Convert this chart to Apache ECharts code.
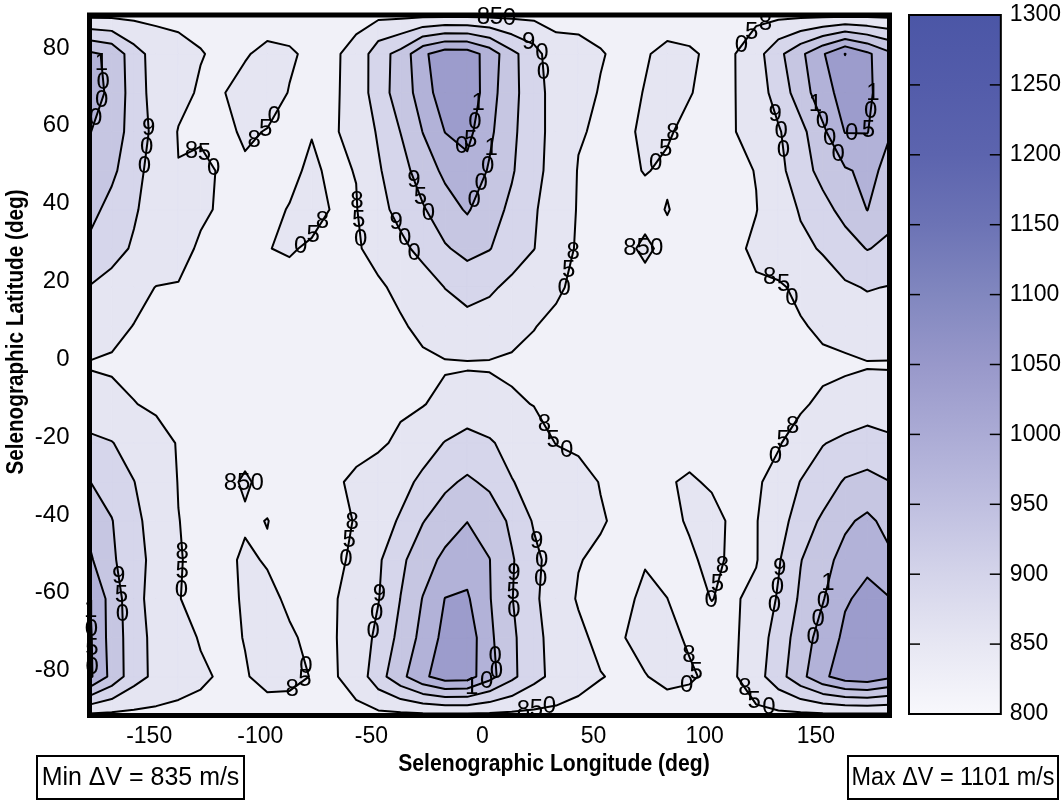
<!DOCTYPE html>
<html><head><meta charset="utf-8">
<script src="https://cdn.jsdelivr.net/npm/echarts@6/dist/echarts.min.js"></script>
<style>html,body{margin:0;padding:0;background:#fff}#c{width:1064px;height:800px}</style>
</head><body><div id="c"></div>
<script>
// ---------------- DATA ----------------
const lons = [-180,-170,-160,-150,-140,-130,-120,-110,-100,-90,-80,-70,-60,-50,-40,-30,-20,-10,0,10,20,30,40,50,60,70,80,90,100,110,120,130,140,150,160,170,180];
const lats = [90,80,70,60,50,40,30,20,10,0,-10,-20,-30,-40,-50,-60,-70,-80,-90];

const dv_n90 = [838,838,838,838,838,838,838,838,838,838,838,838,838,838,838,838,838,838,838,838,838,838,838,838,838,838,838,838,838,838,838,838,838,838,838,838,838];
const dv_n80 = [1010,990,920,880,865,852,842,848,856,853,845,845,862,931,966,1041,1077,1075,1030,963,920,865,862,852,843,848,856,853,846,848,880,937,989,1045,1101,1060,1010];
const dv_n70 = [1020,990,925,880,862,845,849,858,860,849,843,843,870,925,975,1020,1085,1090,1020,965,920,880,860,848,843,851,858,851,844,848,875,920,975,1030,1070,1060,1020];
const dv_n60 = [1002,975,930,885,848,845,845,853,849,845,849,845,868,905,951,1001,1051,1065,1010,960,920,880,853,845,845,854,852,845,843,848,870,895,935,990,1052,1052,1002];
const dv_n50 = [990,960,920,875,851,858,846,847,845,845,854,845,851,895,930,975,1010,1035,995,955,915,880,848,843,845,851,847,843,841,843,851,885,930,965,995,1010,990];
const dv_n40 = [965,935,905,880,862,856,845,843,845,851,858,848,848,885,915,945,980,1005,970,940,905,875,847,843,842,843,851,842,840,843,849,870,905,935,965,1001,965];
const dv_n30 = [940,915,895,875,862,845,842,842,849.5,852,847,843,846,862,888,915,945,965,952,925,901,870,845,842,844,854,844,841,840,843,856,872,888,905,930,952,940];
const dv_n20 = [898,885,862,849,848,840,840,840,842,843,842,840,840,845,858,875,901,918,908,888,870,855,842,840,841,843,841,840,839,842,846,845,858,875,893,903,898];
const dv_n10 = [872,860,849,842,840,838,837,836,835,836,837,838,839,841,846,858,872,882,875,862,851,843,840,839,838,838,838,838,839,840,841,843,847,856,865,875,872];
const dv_eq  = [847,845,842,840,839,838,838,837,837,837,838,838,839,840,842,843,846,846,846,844,842,840,839,838,838,838,838,838,838,839,840,841,842,843,843,847,847];
const dv_s10 = [872,862,851,845,842,840,839,839,840,840,840,841,842,843,845,848,862,875,868,855,849,842,840,840,839,839,839,840,840,841,842,843,846,856,868,878,872];
const dv_s20 = [910,902,880,862,848,843,842,842,841,841,841,842,842,845,856,880,902,915,905,885,866,849,846,842,841,840,840,841,842,842,843,848,862,898,910,918,910];
const dv_s30 = [951,930,901,870,849,843,843,853,843,842,842,846,855,866,885,910,940,958,940,902,885,868,858,849,841,841,848,853,847,843,847,858,902,925,955,965,951];
const dv_s40 = [985,952,912,880,850.5,843,843,847,850.5,843,842,845,851,880,905,948,975,999,980,940,895,875,860,852,845,842,845,852,858,845,848,878,925,958,992,1010,985];
const dv_s50 = [1008,958,918,885,852,842,843,854,848,842,841,843,856,893,940,978,1012,1030,1001,955,912,878,851,846,844,848,845,847,855,846,847,895,948,985,1015,1040,1008];
const dv_s60 = [1052,980,915,882,851,842,842,853,856,846,841,847,865,898,951,1002,1051,1056,1003,952,912,862,848,844,843,856,850.1,843,850.5,845,862,905,958,997,1045,1062,1052];
const dv_s70 = [1058,980,922,885,865,847,843,851,860,853,845,847,870,912,965,1015,1065,1080,1010,960,915,880,855,844,849,858,856,847,842,843,875,920,975,1020,1060,1082,1058];
const dv_s80 = [1060,985,920,888,868,856,845,848,858,857,849,846,868,930,985,1040,1075,1072,1018,962,915,885,862,851,846,849,856,853,845,845,880,930,985,1040,1075,1085,1060];
const dv_s90 = [838,838,838,838,838,838,838,838,838,838,838,838,838,838,838,838,838,838,838,838,838,838,838,838,838,838,838,838,838,838,838,838,838,838,838,838,838];

const levels = [850, 900, 950, 1000, 1050, 1100];
const xTicks = [-150, -100, -50, 0, 50, 100, 150];
const yTicks = [-80, -60, -40, -20, 0, 20, 40, 60, 80];
const cbTicks = [800, 850, 900, 950, 1000, 1050, 1100, 1150, 1200, 1250, 1300];
const cbColors = ['#f8f8fc','#e7e7f3','#d4d4ea','#bfbfe0','#ababd5','#9898ca','#8187bf','#6c73b5','#5c64ae','#535caa','#4b56a6'];
const bandColors = ['#f1f1f8','#e5e5f2','#d6d6eb','#c6c6e2','#b2b2d8','#9c9ccc','#8a8ec4'];

// --------------- build ---------------
const grid = [dv_n90,dv_n80,dv_n70,dv_n60,dv_n50,dv_n40,dv_n30,dv_n20,dv_n10,dv_eq,dv_s10,dv_s20,dv_s30,dv_s40,dv_s50,dv_s60,dv_s70,dv_s80,dv_s90];
const REG = "'Liberation Sans',Arial,Helvetica,sans-serif";

let allVals = [];
grid.forEach(r => r.forEach(v => allVals.push(v)));
const minDV = Math.round(Math.min.apply(null, allVals));
const maxDV = Math.round(Math.max.apply(null, allVals));

function interp(a, b, L) {
  if (a.x > b.x || (a.x === b.x && a.y > b.y)) { const t = a; a = b; b = t; }
  const t = (L - a.v) / (b.v - a.v);
  return [a.x + t * (b.x - a.x), a.y + t * (b.y - a.y)];
}
function chain(segs) {
  const key = p => p[0].toFixed(5) + ',' + p[1].toFixed(5);
  const adj = new Map();
  segs.forEach((s, i) => { [0,1].forEach(e => { const k = key(s[e]); if (!adj.has(k)) adj.set(k, []); adj.get(k).push(i); }); });
  const used = new Array(segs.length).fill(false);
  const out = [];
  function extend(line, end) {
    for (;;) {
      const k = key(end);
      const cand = (adj.get(k) || []).filter(i => !used[i]);
      if (!cand.length) break;
      const i = cand[0]; used[i] = true;
      const s = segs[i];
      const nxt = key(s[0]) === k ? s[1] : s[0];
      line.push(nxt); end = nxt;
    }
  }
  for (let pass = 0; pass < 2; pass++) {
    for (let i = 0; i < segs.length; i++) {
      if (used[i]) continue;
      const s = segs[i];
      let a = s[0], b = s[1];
      if (pass === 0) {
        const d0 = adj.get(key(a)).length, d1 = adj.get(key(b)).length;
        if (d0 !== 1 && d1 !== 1) continue;
        if (d0 !== 1) { a = s[1]; b = s[0]; }
      }
      used[i] = true;
      const line = [a, b]; extend(line, b); out.push(line);
    }
  }
  return out;
}
let GEO = null;
function geometry() {
  if (GEO) return GEO;
  const fills = [], lines = [];
  const nx = lons.length, ny = lats.length;
  levels.forEach((L, li) => {
    const segs = [];
    for (let j = 0; j < ny - 1; j++) for (let i = 0; i < nx - 1; i++) {
      const P = [
        {x: lons[i], y: lats[j], v: grid[j][i]},
        {x: lons[i+1], y: lats[j], v: grid[j][i+1]},
        {x: lons[i+1], y: lats[j+1], v: grid[j+1][i+1]},
        {x: lons[i], y: lats[j+1], v: grid[j+1][i]}];
      const hi = P.map(p => p.v >= L);
      const nh = hi.filter(Boolean).length;
      if (nh === 0) continue;
      if (nh === 4) { fills.push({li, pts: P.map(p => [p.x, p.y])}); continue; }
      if (nh === 2 && hi[0] === hi[2]) {
        const avg = (P[0].v + P[1].v + P[2].v + P[3].v) / 4;
        if (avg < L) {
          for (let k = 0; k < 4; k++) {
            if (!hi[k]) continue;
            const X1 = interp(P[(k+3)%4], P[k], L), X2 = interp(P[k], P[(k+1)%4], L);
            fills.push({li, pts: [X1, [P[k].x, P[k].y], X2]});
            segs.push([X1, X2]);
          }
          continue;
        }
      }
      const poly = [], cr = [];
      for (let k = 0; k < 4; k++) {
        const a = P[k], b = P[(k+1)%4];
        if (hi[k]) poly.push([a.x, a.y]);
        if (hi[k] !== hi[(k+1)%4]) { const X = interp(a, b, L); poly.push(X); cr.push({p: X, leave: hi[k]}); }
      }
      fills.push({li, pts: poly});
      const st = cr[0].leave ? 0 : 1;
      for (let k = st; k < cr.length; k += 2) segs.push([cr[k].p, cr[(k+1)%cr.length].p]);
    }
    chain(segs).forEach(pl => lines.push({li, pts: pl}));
  });
  GEO = {fills, lines};
  return GEO;
}
const LABEL_STYLE = {fill: '#000', fontSize: 24, fontFamily: REG, align: 'center', verticalAlign: 'middle'};
function addLabels(children, placed, pts, txt) {
  const cum = [0];
  for (let k = 1; k < pts.length; k++) cum.push(cum[k-1] + Math.hypot(pts[k][0]-pts[k-1][0], pts[k][1]-pts[k-1][1]));
  const total = cum[cum.length-1];
  const first = pts[0], last = pts[pts.length-1];
  const closed = Math.hypot(first[0]-last[0], first[1]-last[1]) < 1;
  if (total < 50) return;
  if (!closed && total < 75) return;
  function at(s) {
    let k = 1; while (k < cum.length-1 && cum[k] < s) k++;
    const d = (cum[k]-cum[k-1]) || 1, t = (s-cum[k-1])/d;
    return [pts[k-1][0] + t*(pts[k][0]-pts[k-1][0]), pts[k-1][1] + t*(pts[k][1]-pts[k-1][1])];
  }
  if (closed && total < 110) {
    // small closed island: horizontal label across its centre
    let cx = 0, cy = 0; pts.forEach(p => { cx += p[0]; cy += p[1]; }); cx /= pts.length; cy /= pts.length;
    if (placed.some(q => Math.hypot(q[0]-cx, q[1]-cy) < 40)) return;
    placed.push([cx, cy]);
    children.push({type: 'text', x: cx, y: cy, z2: 20, style: Object.assign({text: txt}, LABEL_STYLE)});
    return;
  }
  const n = Math.max(1, Math.round(total / 360));
  for (let m = 0; m < n; m++) {
    const s0 = (m + 0.5) * total / n;
    const c0 = at(s0);
    if (placed.some(q => Math.hypot(q[0]-c0[0], q[1]-c0[1]) < 40)) continue;
    placed.push(c0);
    const a = at(Math.max(0, s0 - 6)), b = at(Math.min(total, s0 + 6));
    let dx = b[0]-a[0], dy = b[1]-a[1]; const d = Math.hypot(dx, dy) || 1; dx /= d; dy /= d;
    const step = Math.hypot(13*dx, 19*dy);
    let chars = txt.split('');
    const horiz = Math.abs(dx) >= Math.abs(dy);
    if ((horiz && dx < 0) || (!horiz && dy < 0)) chars = chars.reverse();
    chars.forEach((ch, k) => {
      const s = Math.min(total, Math.max(0, s0 + (k - (chars.length-1)/2) * step));
      const p = at(s);
      children.push({type: 'text', x: p[0], y: p[1], z2: 20, style: Object.assign({text: ch}, LABEL_STYLE)});
    });
  }
}
function renderContours(params, api) {
  const g = geometry();
  const c = p => api.coord(p);
  const tl = c([lons[0], lats[0]]), br = c([lons[lons.length-1], lats[lats.length-1]]);
  const children = [];
  children.push({type: 'rect', shape: {x: tl[0], y: tl[1], width: br[0]-tl[0], height: br[1]-tl[1]}, style: {fill: bandColors[0]}});
  g.fills.forEach(f => {
    const col = bandColors[f.li + 1];
    children.push({type: 'polygon', shape: {points: f.pts.map(c)}, style: {fill: col, stroke: col, lineWidth: 0.8}});
  });
  g.lines.forEach(l => {
    children.push({type: 'polyline', shape: {points: l.pts.map(c)}, z2: 5,
      style: {stroke: '#000', lineWidth: 2, fill: 'none', lineJoin: 'round', lineCap: 'round'}});
  });
  const placed = [];
  g.lines.forEach(l => addLabels(children, placed, l.pts.map(c), String(levels[l.li])));
  children.push({type: 'rect', z2: 30, shape: {x: tl[0], y: tl[1], width: br[0]-tl[0], height: br[1]-tl[1]}, style: {fill: 'none', stroke: '#000', lineWidth: 5}});
  return {type: 'group', children};
}
function renderColorbar(params, api) {
  const lo = cbTicks[0], hi = cbTicks[cbTicks.length-1];
  const tl = api.coord([0, hi]), br = api.coord([1, lo]);
  const stops = cbTicks.map((v, i) => ({offset: (hi - v) / (hi - lo), color: cbColors[i]})).sort((a, b) => a.offset - b.offset);
  const children = [{type: 'rect', shape: {x: tl[0], y: tl[1], width: br[0]-tl[0], height: br[1]-tl[1]},
    style: {fill: new echarts.graphic.LinearGradient(0, 0, 0, 1, stops), stroke: '#000', lineWidth: 2}}];
  cbTicks.slice(1, -1).forEach(v => {
    const y = api.coord([0, v])[1];
    children.push({type: 'line', shape: {x1: tl[0], y1: y, x2: tl[0] + 11, y2: y}, style: {stroke: '#000', lineWidth: 1.5}});
    children.push({type: 'line', shape: {x1: br[0] - 11, y1: y, x2: br[0], y2: y}, style: {stroke: '#000', lineWidth: 1.5}});
  });
  return {type: 'group', children};
}

const chart = echarts.init(document.getElementById('c'), null, {renderer: 'canvas'});
chart.setOption({
  animation: false,
  backgroundColor: '#fff',
  grid: [
    {left: 89.5, right: 174.5, top: 15, bottom: 84.5},
    {left: 909, right: 62, top: 15, bottom: 86}
  ],
  xAxis: [
    {gridIndex: 0, type: 'value', min: -180, max: 180, axisLine: {show: false}, axisTick: {show: false}, splitLine: {show: false},
     axisLabel: {customValues: xTicks, margin: 10, formatter: v => '{a|' + v + '}',
       rich: {a: {fontSize: 23, fontFamily: REG, color: '#000', padding: [0, 14, 0, 0]}}}},
    {gridIndex: 1, type: 'value', min: 0, max: 1, show: false}
  ],
  yAxis: [
    {gridIndex: 0, type: 'value', min: -90, max: 90, axisLine: {show: false}, axisTick: {show: false}, splitLine: {show: false},
     axisLabel: {customValues: yTicks, margin: 20, formatter: v => '{a|' + v + '}',
       rich: {a: {fontSize: 24, fontFamily: REG, color: '#000', padding: [0, 0, 12, 0]}}}},
    {gridIndex: 1, type: 'value', min: 800, max: 1300, interval: 50, position: 'right',
     axisLine: {show: false}, splitLine: {show: false}, axisTick: {show: false},
     axisLabel: {fontSize: 23, fontFamily: REG, color: '#000', margin: 9, formatter: v => String(v)}}
  ],
  series: [
    {type: 'custom', xAxisIndex: 0, yAxisIndex: 0, data: [[0, 0]], renderItem: renderContours, silent: true, z: 2},
    {type: 'custom', xAxisIndex: 1, yAxisIndex: 1, data: [[0, 800]], renderItem: renderColorbar, silent: true, z: 2}
  ],
  graphic: [
    {type: 'text', x: 554, y: 765, scaleX: 0.92, style: {text: 'Selenographic Longitude (deg)', fontSize: 23, fontWeight: 'bold', fontFamily: REG, fill: '#000', align: 'center', verticalAlign: 'middle'}},
    {type: 'text', x: 17, y: 332, rotation: Math.PI/2, scaleX: 0.9, style: {text: 'Selenographic Latitude (deg)', fontSize: 23, fontWeight: 'bold', fontFamily: REG, fill: '#000', align: 'center', verticalAlign: 'middle'}},
    {type: 'rect', shape: {x: 37, y: 756, width: 207, height: 43}, style: {fill: '#fff', stroke: '#000', lineWidth: 2}},
    {type: 'text', x: 140.5, y: 778, scaleX: 0.96, style: {text: 'Min \u0394V = ' + minDV + ' m/s', fontSize: 26, fontFamily: REG, fill: '#000', align: 'center', verticalAlign: 'middle'}},
    {type: 'rect', shape: {x: 848, y: 756, width: 210, height: 43}, style: {fill: '#fff', stroke: '#000', lineWidth: 2}},
    {type: 'text', x: 953, y: 778, scaleX: 0.9, style: {text: 'Max \u0394V = ' + maxDV + ' m/s', fontSize: 26, fontFamily: REG, fill: '#000', align: 'center', verticalAlign: 'middle'}}
  ]
});
</script></body></html>
